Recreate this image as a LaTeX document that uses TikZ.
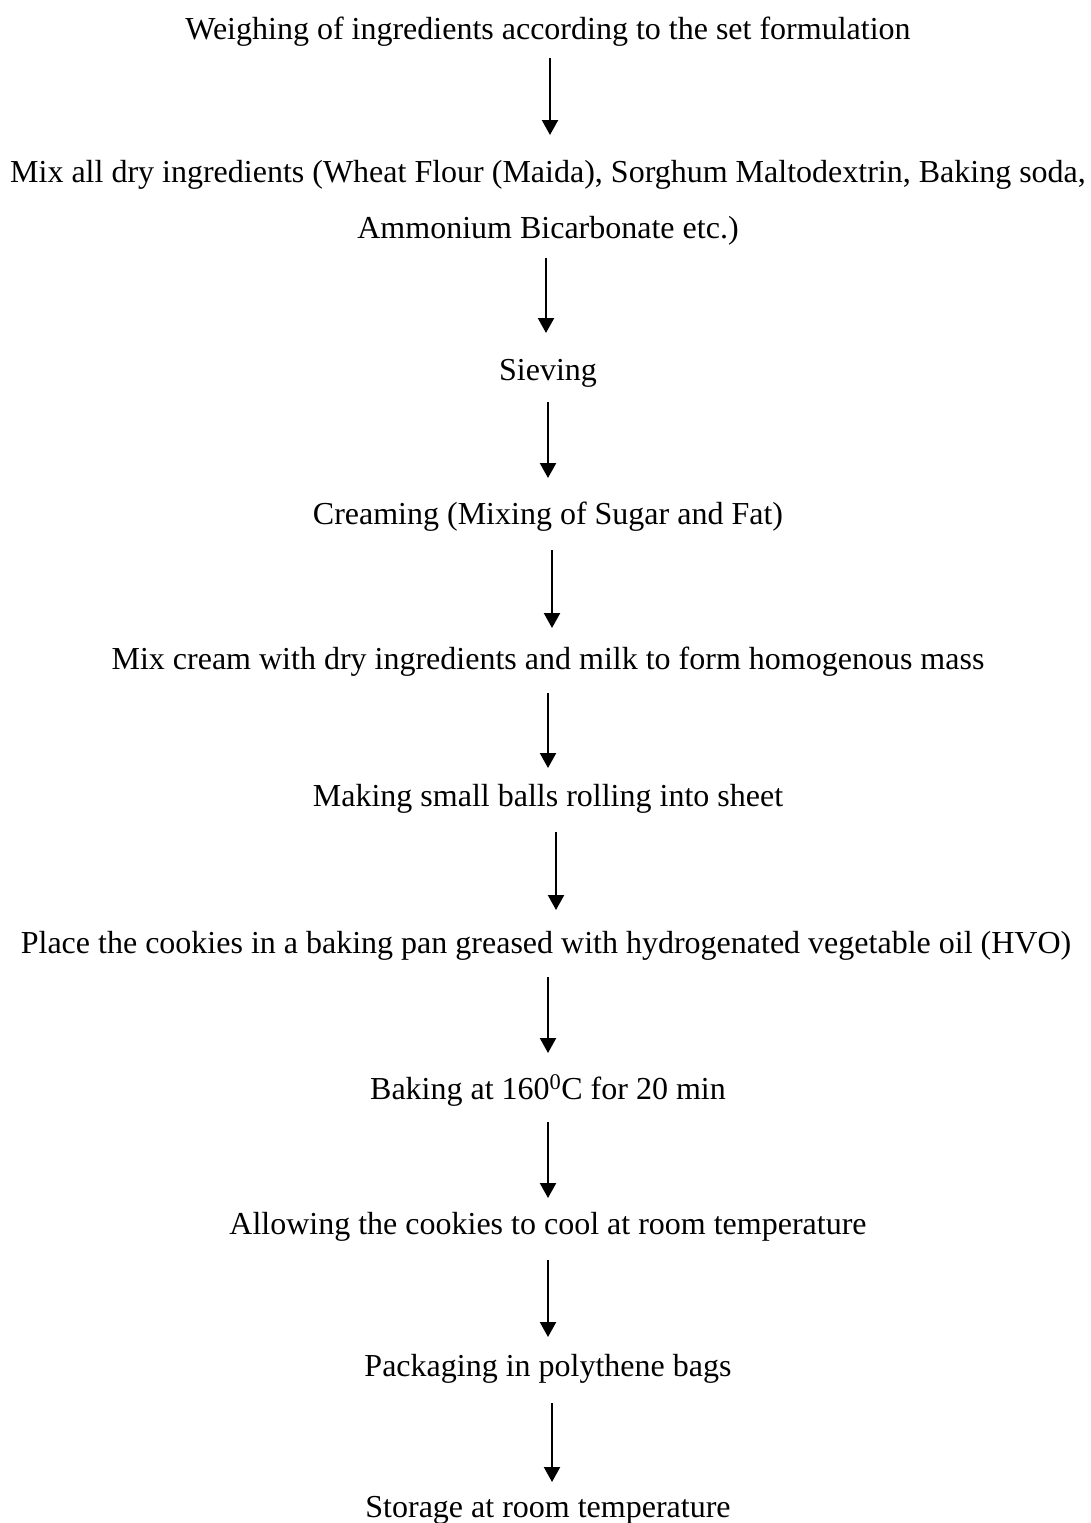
\documentclass[tikz,border=0pt]{standalone}
\usepackage{fontspec}
\setmainfont{Liberation Serif}
\usetikzlibrary{arrows.meta,calc}
\begin{document}
\begin{tikzpicture}[x=1pt,y=-1pt,
  stage/.style={anchor=base,inner sep=0pt,font=\fontsize{32}{56}\selectfont,align=center},
  arr/.style={line width=2.2pt,-{Triangle[length=15pt,width=16pt]}}]
\useasboundingbox (0,0) rectangle (1090,1523);
\node[stage] (s1) at (548,39) {Weighing of ingredients according to the set formulation};
\node[stage] (s2) at (548,182) {Mix all dry ingredients (Wheat Flour (Maida), Sorghum Maltodextrin, Baking soda,};
\node[stage] (s2b) at (548,238) {Ammonium Bicarbonate etc.)};
\node[stage] (s3) at (548,380) {Sieving};
\node[stage] (s4) at (548,524) {Creaming (Mixing of Sugar and Fat)};
\node[stage] (s5) at (548,669) {Mix cream with dry ingredients and milk to form homogenous mass};
\node[stage] (s6) at (548,806) {Making small balls rolling into sheet};
\node[stage] (s7) at (546,953) {Place the cookies in a baking pan greased with hydrogenated vegetable oil (HVO)};
\node[stage] (s8) at (548,1099) {Baking at 160\textsuperscript{0}C for 20 min};
\node[stage] (s9) at (548,1234) {Allowing the cookies to cool at room temperature};
\node[stage] (s10) at (548,1376) {Packaging in polythene bags};
\node[stage] (s11) at (548,1517) {Storage at room temperature};
\draw[arr] ($(s1.base)+(2,19)$) -- ($(s2.base)+(2,-47)$);
\draw[arr] ($(s2b.base)+(-2,20)$) -- ($(s3.base)+(-2,-47)$);
\draw[arr] ($(s3.base)+(0,22)$) -- ($(s4.base)+(0,-46)$);
\draw[arr] ($(s4.base)+(4,26)$) -- ($(s5.base)+(4,-41)$);
\draw[arr] ($(s5.base)+(0,24)$) -- ($(s6.base)+(0,-38)$);
\draw[arr] ($(s6.base)+(8,26)$) -- ($(s7.base)+(10,-43)$);
\draw[arr] ($(s7.base)+(2,24)$) -- ($(s8.base)+(0,-46)$);
\draw[arr] ($(s8.base)+(0,23)$) -- ($(s9.base)+(0,-36)$);
\draw[arr] ($(s9.base)+(0,26)$) -- ($(s10.base)+(0,-39)$);
\draw[arr] ($(s10.base)+(4,27)$) -- ($(s11.base)+(4,-35)$);
\end{tikzpicture}
\end{document}
